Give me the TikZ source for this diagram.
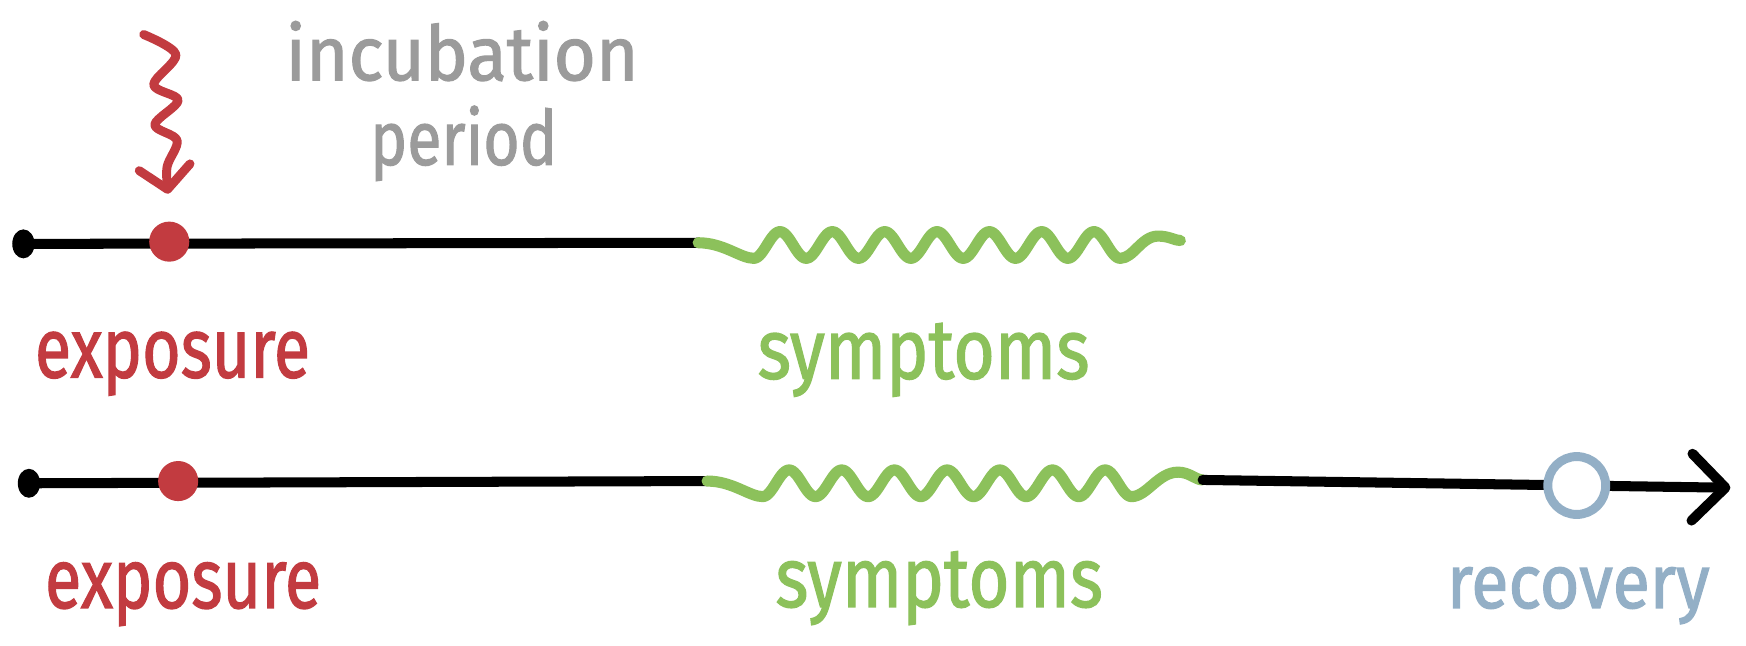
\documentclass[tikz,border=0pt]{standalone}
\usepackage{fontspec}
\setmainfont{Fira Sans}[FakeBold=2]
\newfontfamily\handfont{Fira Sans}[FakeBold=1.6]
\usepackage{graphicx}
\usetikzlibrary{arrows.meta,shapes.geometric}
\definecolor{cred}{HTML}{C23B40}
\definecolor{cgreen}{HTML}{8CC15B}
\definecolor{cgray}{HTML}{9B9B9B}
\definecolor{cblue}{HTML}{93AFC6}
\newcommand\fitw[2]{\resizebox{#1}{\height}{#2}}
\begin{document}
\begin{tikzpicture}[x=0.5pt,y=-0.5pt,
  axis/.style={line width=4.5pt, line cap=round, line join=round},
  wave/.style={cgreen, line width=5pt, line cap=round, line join=round},
  enddot/.style={ellipse, fill=black, inner sep=0pt, minimum width=10pt, minimum height=13pt},
  reddot/.style={circle, fill=cred, inner sep=0pt, minimum size=18pt},
  recdot/.style={circle, draw=cblue, line width=4pt, fill=white, inner sep=0pt, minimum size=26pt},
  lab/.style={inner sep=0pt, anchor=base west},
  bigfont/.style={font=\handfont\fontsize{38}{38}\selectfont},
  midfont/.style={font=\handfont\fontsize{34}{34}\selectfont}]
\useasboundingbox (0,0) rectangle (1568,580);
% ---------- top timeline
\coordinate (a0) at (21,219);
\coordinate (a1) at (152,217);
\coordinate (a2) at (627,218);
\coordinate (a3) at (1060,216);
\coordinate (at1) at (677,232);
\coordinate (at2) at (1006,232);
\coordinate (ab) at (1040,212);
\draw[axis] (a0) -- (a2);
\draw[wave] (a2) .. controls (650,218) and (665,232) .. (at1)
  -- plot[domain=677:1006, samples=200] (\x, {220+12*cos(7.66*(\x-677))})
  .. controls (1018,232) and (1025,212) .. (ab)
  .. controls (1050,212) and (1055,216) .. (a3);
\node[enddot] (ta0) at (a0) {};
\node[reddot] (ta1) at (a1) {};
% squiggle arrow pointing at the exposure dot
\coordinate (sq0) at (129,31);
\coordinate (sqtip) at (151,174);
\draw[cred, line width=4pt, line cap=round, line join=round,
  -{Straight Barb[length=10pt,width=23pt,round]}]
  plot[smooth, tension=0.55] coordinates {(sq0) (158,49) (138,76) (160,90) (139,112) (159,126) (150,150) (sqtip)};
% ---------- bottom timeline
\coordinate (b0) at (26,434);
\coordinate (b1) at (160,432);
\coordinate (b2) at (635,432);
\coordinate (b3) at (1080,431);
\coordinate (b4) at (1416,436);
\coordinate (b5) at (1554,438);
\coordinate (bt1) at (685,446);
\coordinate (bt2) at (1016,446);
\coordinate (bb) at (1058,424);
\draw[axis] (b0) -- (b2);
\draw[wave] (b2) .. controls (658,432) and (673,446) .. (bt1)
  -- plot[domain=685:1016, samples=200] (\x, {434+12*cos(7.61*(\x-685))})
  .. controls (1030,446) and (1040,424) .. (bb)
  .. controls (1068,424) and (1074,431) .. (b3);
\draw[axis, -{Straight Barb[length=15pt,width=30pt,round]}] (b3) -- (b5);
\node[enddot] (tb0) at (b0) {};
\node[reddot] (tb1) at (b1) {};
\node[recdot] (tb4) at (b4) {};
% ---------- labels
\node[lab, midfont, text=cgray] (inc) at (256,72) {\fitw{158.5pt}{incubation}};
\node[lab, midfont, text=cgray] (per) at (332,148) {\fitw{84pt}{period}};
\node[lab, bigfont, text=cred] (ex1) at (31,339) {\fitw{123.5pt}{exposure}};
\node[lab, bigfont, text=cgreen] (sy1) at (680,340) {\fitw{149pt}{symptoms}};
\node[lab, bigfont, text=cred] (ex2) at (40,546) {\fitw{124pt}{exposure}};
\node[lab, bigfont, text=cgreen] (sy2) at (696,545) {\fitw{147pt}{symptoms}};
\node[lab, midfont, text=cblue] (rec) at (1299,546) {\fitw{118pt}{recovery}};
\end{tikzpicture}
\end{document}
